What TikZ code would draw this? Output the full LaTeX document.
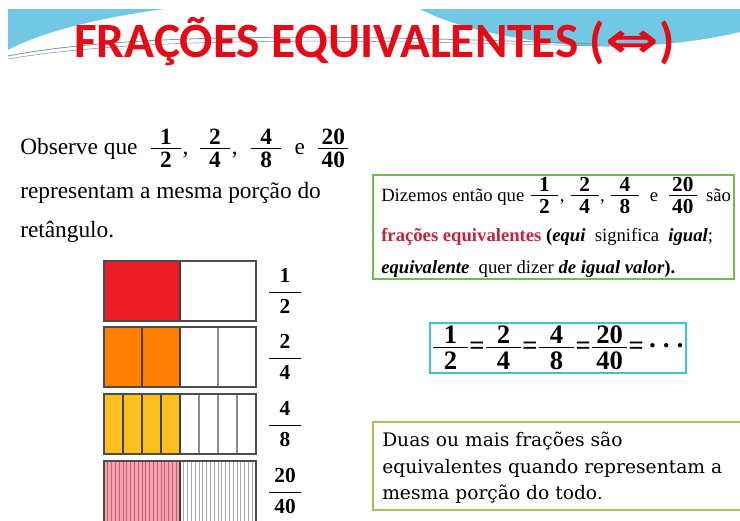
\documentclass[tikz,border=0pt]{standalone}
\usepackage{fontspec}
\setmainfont{Liberation Serif}
\newfontfamily\titlefont{Carlito}
\newfontfamily\arrowfont{DejaVu Sans}
\newfontfamily\notefont{DejaVu Serif}
\definecolor{titlered}{RGB}{228,10,22}
\definecolor{wavecyan}{RGB}{112,200,228}
\definecolor{swoosh}{RGB}{120,150,165}
\definecolor{boxgreen}{RGB}{112,186,84}
\definecolor{boxcyan}{RGB}{62,196,206}
\definecolor{boxlime}{RGB}{166,192,86}
\definecolor{wordred}{RGB}{196,36,58}
\definecolor{partred}{RGB}{236,28,36}
\definecolor{partorange}{RGB}{255,128,0}
\definecolor{partyellow}{RGB}{250,192,30}
\definecolor{partpink}{RGB}{244,162,178}
\definecolor{stripepink}{RGB}{200,96,116}
\newcommand{\fr}[3][1.3em]{$\frac{\makebox[#1]{\textbf{#2}}\rule[-0.12em]{0pt}{0pt}}{\rule{0pt}{0.8em}\textbf{#3}}$}
\newcommand{\dfr}[3][1.5em]{$\displaystyle\frac{\makebox[#1]{\textbf{#2}}}{\textbf{#3}}$}
\newcommand{\bigfr}[2]{{\fontsize{16}{18}\selectfont\fr{#1}{#2}}}
\newcommand{\boldots}{\textbf{·\hspace{0.18em}·\hspace{0.18em}·}}
\tikzset{
  txt/.style={anchor=base west,inner sep=0pt},
  rowframe/.style={draw=black!70,line width=0.9pt},
  partline/.style={draw=black!75,line width=0.8pt},
  emptyline/.style={draw=black!45,line width=0.8pt},
  thinpink/.style={draw=stripepink,line width=0.5pt},
  thingray/.style={draw=black!35,line width=0.5pt},
}
\begin{document}
\begin{tikzpicture}[x=0.75pt,y=-0.75pt]
    \useasboundingbox (0,0) rectangle (740,521);
    %% top waves
    \fill[wavecyan] (8,9) -- (165,9) .. controls (110,16) and (45,30) .. (8,50) -- cycle;
    \fill[wavecyan] (420,9) -- (740,9) -- (740,32) .. controls (700,42) and (630,50) .. (570,45) .. controls (500,38) and (450,25) .. (420,9) -- cycle;
    \draw[swoosh,line width=0.6pt] (8,56) .. controls (150,28) and (420,38) .. (600,44);
    \draw[swoosh,line width=0.4pt] (8,59) .. controls (160,33) and (420,42) .. (600,46);
    %% title
    \node[txt,text=titlered] (title) at (74,57) {\fontsize{37}{40}\titlefont\bfseries FRAÇÕES EQUIVALENTES (\scalebox{1.3}[1]{\arrowfont\bfseries ⇔})};
    %% left text
    \node[txt] (obs1) at (20,154) {\fontsize{17.5}{20}\selectfont Observe que \ \fr12, \,\fr24, \ \fr48 \ e \ \fr{20}{40}};
    \node[txt] (obs2) at (20,198) {\fontsize{17.5}{20}\selectfont representam a mesma porção do};
    \node[txt] (obs3) at (20,237) {\fontsize{17.5}{20}\selectfont retângulo.};
    %% the four rectangles
    \fill[partred] (104,261) rectangle (180,321);
    \draw[partline] (180,261) -- (180,321);
    \draw[rowframe] (104,261) rectangle (256,321);
    \fill[partorange] (104,327) rectangle (180,387);
    \draw[partline] (142,327) -- (142,387);
    \draw[partline] (180,327) -- (180,387);
    \draw[emptyline] (218,327) -- (218,387);
    \draw[rowframe] (104,327) rectangle (256,387);
    \fill[partyellow] (104,394) rectangle (180,454);
    \foreach \k in {1,...,4} \draw[partline] ({104+19*\k},394) -- ({104+19*\k},454);
    \foreach \k in {5,...,7} \draw[emptyline] ({104+19*\k},394) -- ({104+19*\k},454);
    \draw[rowframe] (104,394) rectangle (256,454);
    \fill[partpink] (104,461) rectangle (180,521);
    \foreach \k in {1,...,19} \draw[thinpink] ({104+3.8*\k},461) -- ({104+3.8*\k},521);
    \foreach \k in {21,...,39} \draw[thingray] ({104+3.8*\k},461) -- ({104+3.8*\k},521);
    \draw[partline] (180,461) -- (180,521);
    \draw[rowframe] (104,521) |- (256,461) -- (256,521);
    %% labels of the rows
    \node[inner sep=0pt] (lab1) at (285,291) {\fontsize{16}{18}\selectfont\dfr12};
    \node[inner sep=0pt] (lab2) at (285,357) {\fontsize{16}{18}\selectfont\dfr24};
    \node[inner sep=0pt] (lab3) at (285,424) {\fontsize{16}{18}\selectfont\dfr48};
    \node[inner sep=0pt] (lab4) at (285,491) {\fontsize{16}{18}\selectfont\dfr{20}{40}};
    %% green box
    \draw[boxgreen,line width=1.4pt] (373,175) rectangle (734,279);
    \node[txt] (diz1) at (381,201) {\fontsize{14}{16}\selectfont Dizemos então que \bigfr12, \bigfr24, \bigfr48 \ e \ \bigfr{20}{40} \,são};
    \node[txt] (diz2) at (381,241) {\fontsize{14}{16}\selectfont{\color{wordred}\bfseries frações equivalentes} \textbf{(\textit{equi}} \ significa \ \textbf{\textit{igual}};};
    \node[txt] (diz3) at (381,273) {\fontsize{14}{16}\selectfont\textbf{\textit{equivalente}} \ quer dizer \textbf{\textit{de igual valor}).}};
    %% cyan box
    \draw[boxcyan,line width=1.4pt] (430,323) rectangle (686,373);
    \node[inner sep=0pt] (chain) at (558,348) {\fontsize{20}{22}\selectfont\fr12\textbf{=}\fr24\textbf{=}\fr48\textbf{=}\fr{20}{40}\textbf{=}\,\boldots};
    %% bottom box
    \draw[boxlime,line width=1.4pt] (373,422) rectangle (742,510);
    \node[txt] (duas1) at (382,446) {\fontsize{14}{16}\notefont Duas ou mais frações são};
    \node[txt] (duas2) at (382,473) {\fontsize{14}{16}\notefont equivalentes quando representam a};
    \node[txt] (duas3) at (382,499) {\fontsize{14}{16}\notefont mesma porção do todo.};
\end{tikzpicture}
\end{document}
